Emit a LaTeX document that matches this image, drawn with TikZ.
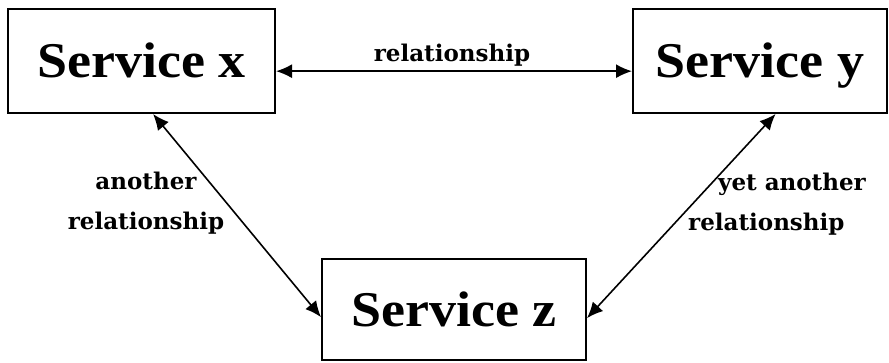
\documentclass[tikz,border=0pt]{standalone}
\usepackage{fontspec}
\usetikzlibrary{arrows.meta,calc}
\newfontfamily\svcfont[FakeStretch=1.08]{Liberation Serif Bold}
\newfontfamily\lblfont{DejaVu Serif Bold}
\begin{document}
\begin{tikzpicture}[x=1pt,y=-1pt,
  svcbox/.style={draw=black,line width=2pt,rectangle,inner sep=0pt,
    text height=33pt,text depth=0pt,
    font=\svcfont\fontsize{50}{54}\selectfont},
  rel/.style={line width=1.6pt,{Latex[length=16pt,width=14pt]}-{Latex[length=16pt,width=14pt]}},
  lbl/.style={font=\lblfont\fontsize{23}{40}\selectfont,inner sep=0pt}]
\useasboundingbox (0,0) rectangle (889,362);
\fill[white] (0,0) rectangle (889,362);
\node[svcbox,minimum width=267pt,minimum height=104pt] (sx) at (141.5,61) {Service x};
\node[svcbox,minimum width=254pt,minimum height=104pt] (sy) at (760,61) {Service y};
\node[svcbox,minimum width=264pt,minimum height=101pt] (sz) at (454,309.5) {Service z};
\draw[rel] ($(sx.north east)!0.596!(sx.south east)$) -- ($(sy.north west)!0.596!(sy.south west)$);
\draw[rel] ($(sx.south west)!0.543!(sx.south east)$) -- ($(sz.north west)!0.574!(sz.south west)$);
\draw[rel] ($(sy.south west)!0.561!(sy.south east)$) -- ($(sz.north east)!0.584!(sz.south east)$);
\node[lbl,anchor=base] (l1) at (452,61) {relationship};
\node[lbl,align=center,anchor=center] (l2) at (146,203) {another\\relationship};
\node[lbl,align=left,anchor=center] (l3) at (777,204) {\hspace*{30pt}yet another\\relationship};
\end{tikzpicture}
\end{document}
